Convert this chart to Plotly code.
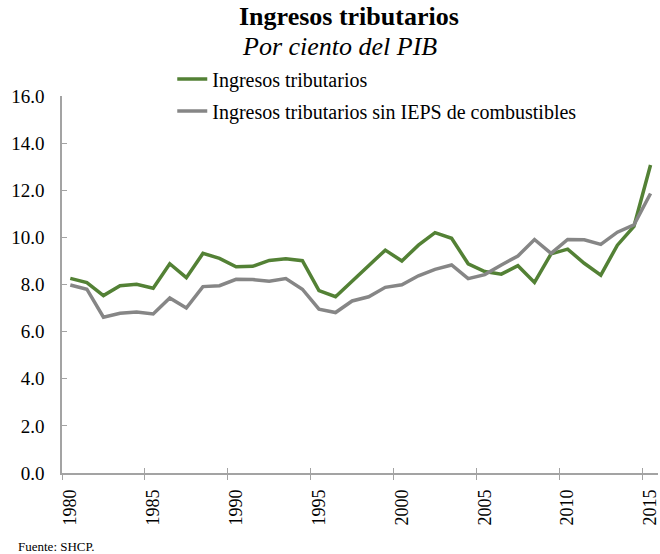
import plotly.graph_objects as go

# Tax revenue as a share of GDP, Mexico, 1980-2015
years = list(range(1980, 2016))
ingresos_tributarios = [
    8.26, 8.08, 7.53, 7.95, 8.01, 7.84, 8.88, 8.29, 9.32, 9.11,
    8.75, 8.77, 9.02, 9.09, 9.01, 7.74, 7.48, 8.15, 8.80, 9.46,
    9.00, 9.67, 10.20, 9.96, 8.88, 8.55, 8.44, 8.80, 8.09, 9.30,
    9.50, 8.90, 8.40, 9.67, 10.47, 13.07,
]
sin_ieps_combustibles = [
    7.98, 7.80, 6.61, 6.78, 6.83, 6.75, 7.43, 7.00, 7.91, 7.95,
    8.22, 8.21, 8.14, 8.25, 7.80, 6.95, 6.81, 7.30, 7.48, 7.88,
    7.99, 8.37, 8.64, 8.83, 8.25, 8.42, 8.83, 9.21, 9.91, 9.32,
    9.91, 9.90, 9.70, 10.22, 10.53, 11.86,
]
series_names = ["Ingresos tributarios", "Ingresos tributarios sin IEPS de combustibles"]
x_ticks = list(range(1980, 2016, 5))
y_ticks = [0, 2, 4, 6, 8, 10, 12, 14, 16]

FONT = "Liberation Serif"
GREEN = "#538135"
GRAY = "#868686"
AXIS = "#a3a3a3"

# each year is plotted in the middle of its interval
xpos = [y + 0.5 for y in years]

fig = go.Figure()
fig.add_trace(go.Scatter(
    x=xpos, y=ingresos_tributarios, mode="lines", name=series_names[0],
    line=dict(color=GREEN, width=3.5), legendgroup="a",
))
fig.add_trace(go.Scatter(
    x=xpos, y=sin_ieps_combustibles, mode="lines", name=series_names[1],
    line=dict(color=GRAY, width=3.5), legendgroup="b",
))
# empty traces carrying the inner tick half and the year labels
fig.add_trace(go.Scatter(x=[], y=[], xaxis="x2", showlegend=False, hoverinfo="skip"))
fig.add_trace(go.Scatter(x=[], y=[], xaxis="x3", showlegend=False, hoverinfo="skip"))

common_x = dict(showgrid=False, zeroline=False)

fig.update_layout(
    width=660, height=554,
    margin=dict(l=62, r=0, t=96, b=81),
    paper_bgcolor="white", plot_bgcolor="white",
    font=dict(family=FONT, size=19, color="black"),
    showlegend=True,
    legend=dict(
        x=0.185, y=1.097, xanchor="left", yanchor="top",
        font=dict(family=FONT, size=20, color="black"),
        bgcolor="rgba(0,0,0,0)", tracegroupgap=3,
        itemwidth=30,
    ),
    xaxis=dict(
        range=[1980, 2015.95], tickmode="array", tickvals=x_ticks,
        showticklabels=False,
        ticks="outside", ticklen=5, tickwidth=1.2, tickcolor=AXIS,
        showline=True, linecolor=AXIS, linewidth=1.5, **common_x,
    ),
    xaxis2=dict(
        overlaying="x", matches="x", anchor="y",
        tickmode="array", tickvals=x_ticks, showticklabels=False,
        ticks="inside", ticklen=5, tickwidth=1.2, tickcolor=AXIS,
        showline=False, **common_x,
    ),
    xaxis3=dict(
        overlaying="x", matches="x", anchor="y",
        tickmode="array", tickvals=[t + 0.5 for t in x_ticks],
        ticktext=[str(t) for t in x_ticks], tickangle=-90, ticks="",
        tickfont=dict(family=FONT, size=18, color="black"),
        ticklabelstandoff=12, ticklabeloverflow="allow",
        showline=False, **common_x,
    ),
    yaxis=dict(
        range=[0, 16], tickmode="array", tickvals=y_ticks,
        ticktext=[f"{v:.1f}" for v in y_ticks],
        ticks="inside", ticklen=5, tickwidth=1.2, tickcolor=AXIS,
        showline=True, linecolor=AXIS, linewidth=1.5,
        showgrid=False, zeroline=False,
        tickfont=dict(family=FONT, size=19, color="black"),
        ticklabelstandoff=12,
    ),
    annotations=[
        dict(text="<b>Ingresos tributarios</b>", xref="paper", yref="paper",
             x=0.482, y=1.21, xanchor="center", yanchor="middle", showarrow=False,
             font=dict(family=FONT, size=26, color="black")),
        dict(text="<i>Por ciento del PIB</i>", xref="paper", yref="paper",
             x=0.466, y=1.13, xanchor="center", yanchor="middle", showarrow=False,
             font=dict(family=FONT, size=26, color="black")),
        dict(text="Fuente: SHCP.", xref="paper", yref="paper",
             x=-0.077, y=-0.195, xanchor="left", yanchor="middle", showarrow=False,
             font=dict(family=FONT, size=13, color="black")),
    ],
)

fig.write_html("out.html")
